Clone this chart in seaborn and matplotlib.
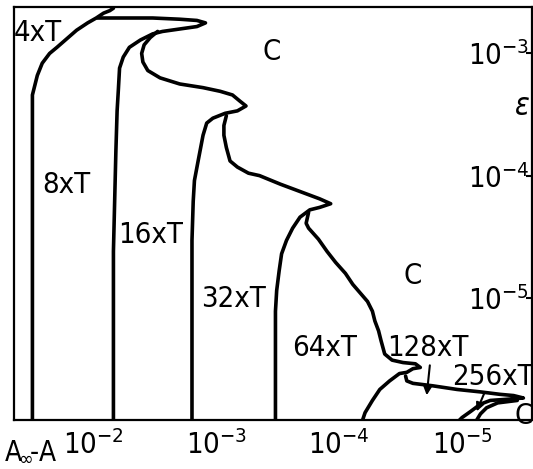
import numpy as np
import pandas as pd
import seaborn as sns
import matplotlib
matplotlib.use("Agg")
import matplotlib.pyplot as plt
from matplotlib.ticker import NullLocator

# Boundary curves
# values are log10(A_inf - A) and log10(epsilon)
a_x = [-1.50, -1.50, -1.50, -1.50, -1.52, -1.54, -1.58, -1.64, -1.70, -1.78, -1.86, -1.95, -2.02, -2.08, -2.13, -2.16]
a_y = [-6.00, -4.62, -3.47, -3.34, -3.26, -3.18, -3.08, -3.00, -2.95, -2.88, -2.81, -2.75, -2.71, -2.67, -2.65, -2.63]

b_x = [-2.03, -2.21, -2.48, -2.70, -2.84, -2.91, -2.84, -2.70, -2.56, -2.48, -2.38, -2.29, -2.24, -2.21,
       -2.20, -2.19, -2.18, -2.16, -2.16]
b_y = [-2.71, -2.71, -2.71, -2.72, -2.73, -2.75, -2.78, -2.80, -2.82, -2.84, -2.89, -2.95, -3.03, -3.12,
       -3.30, -3.47, -3.80, -4.62, -6.00]

c_x = [-2.52, -2.46, -2.41, -2.39, -2.40, -2.44, -2.54, -2.70, -2.89, -3.03, -3.13, -3.19, -3.24, -3.17,
       -3.07, -2.97, -2.92, -2.89, -2.85, -2.82, -2.81, -2.80, -2.80]
c_y = [-2.82, -2.87, -2.93, -3.00, -3.07, -3.14, -3.20, -3.25, -3.28, -3.31, -3.34, -3.39, -3.43, -3.47,
       -3.49, -3.53, -3.57, -3.67, -3.88, -4.04, -4.21, -4.53, -6.00]

d_x = [-3.08, -3.06, -3.06, -3.08, -3.11, -3.17, -3.26, -3.35, -3.52, -3.68, -3.84, -3.93, -3.84, -3.76,
       -3.68, -3.62, -3.57, -3.53, -3.51, -3.49, -3.48, -3.48, -3.48]
d_y = [-3.51, -3.59, -3.67, -3.77, -3.88, -3.93, -3.98, -4.00, -4.07, -4.13, -4.19, -4.23, -4.26, -4.28,
       -4.34, -4.43, -4.53, -4.64, -4.78, -4.94, -5.11, -5.52, -6.00]

e_x = [-3.75, -3.73, -3.75, -3.83, -3.90, -3.97, -4.05, -4.11, -4.17, -4.23, -4.27, -4.29, -4.32, -4.34,
       -4.37, -4.43, -4.52, -4.62, -4.66, -4.60, -4.55, -4.49, -4.41, -4.33, -4.27, -4.21, -4.19]
e_y = [-4.30, -4.39, -4.43, -4.52, -4.62, -4.71, -4.80, -4.89, -4.96, -5.03, -5.11, -5.19, -5.27, -5.35,
       -5.46, -5.51, -5.53, -5.54, -5.57, -5.58, -5.61, -5.62, -5.68, -5.75, -5.84, -5.94, -6.00]

g_x = [-4.54, -4.55, -4.60, -4.76, -4.96, -5.15, -5.31, -5.42, -5.50, -5.37, -5.23, -5.15, -5.07, -5.00, -4.98]
g_y = [-5.64, -5.68, -5.70, -5.72, -5.75, -5.77, -5.79, -5.80, -5.82, -5.83, -5.84, -5.87, -5.93, -5.98, -6.00]

h_x = [-5.45, -5.29, -5.20, -5.15, -5.12]
h_y = [-5.84, -5.86, -5.90, -5.95, -6.00]

curves = {"A": (a_x, a_y), "B": (b_x, b_y), "C": (c_x, c_y), "D": (d_x, d_y),
          "E": (e_x, e_y), "G": (g_x, g_y), "H": (h_x, h_y)}

region_text = ["4xT", "8xT", "16xT", "32xT", "64xT", "128xT", "256xT", "C", "C", "C"]
region_x = [-1.54, -1.78, -2.46, -3.14, -3.88, -4.72, -5.25, -3.45, -4.60, -5.50]
region_y = [-2.83, -4.08, -4.49, -5.01, -5.41, -5.41, -5.65, -2.99, -4.82, -5.97]

# arrows: (from x, from y, to x, to y)
arrows = [(-4.74, -5.53, -4.71, -5.82), (-5.19, -5.76, -5.11, -5.95)]

x_ticks = [1e-2, 1e-3, 1e-4, 1e-5]
y_ticks = [1e-5, 1e-4, 1e-3]

frames = []
for name, (lx, ly) in curves.items():
    frames.append(pd.DataFrame({"x": 10.0 ** np.array(lx), "y": 10.0 ** np.array(ly), "curve": name}))
df = pd.concat(frames, ignore_index=True)

sns.set_theme(style="white")
plt.rcParams["font.family"] = ["DejaVu Sans"]
plt.rcParams["font.stretch"] = "condensed"
plt.rcParams["mathtext.fontset"] = "custom"
plt.rcParams["mathtext.rm"] = "DejaVu Sans:stretch=condensed"
plt.rcParams["mathtext.it"] = "DejaVu Sans:italic:stretch=condensed"
plt.rcParams["text.color"] = "black"
plt.rcParams["axes.labelcolor"] = "black"

fig = plt.figure(figsize=(5.33, 4.69), dpi=100)
ax = fig.add_axes([14 / 533, 1 - 420 / 469, 518 / 533, 413 / 469])
ax.set_xscale("log")
ax.set_yscale("log")

sns.lineplot(data=df, x="x", y="y", units="curve", estimator=None, sort=False,
             color="black", linewidth=2.6, legend=False, ax=ax)

for t, x, y in zip(region_text, region_x, region_y):
    ax.text(10 ** x, 10 ** y, t, fontsize=21, ha="center", va="center", color="black")

for x0, y0, x1, y1 in arrows:
    ax.annotate("", xy=(10 ** x1, 10 ** y1), xytext=(10 ** x0, 10 ** y0),
                arrowprops=dict(arrowstyle="-|>", color="black", lw=1.5, mutation_scale=12))

ax.set_xlim(10 ** -1.35, 10 ** -5.57)
ax.set_ylim(1e-6, 10 ** -2.62)
ax.set_xticks(x_ticks)
ax.set_yticks(y_ticks)
ax.xaxis.set_minor_locator(NullLocator())
ax.yaxis.set_minor_locator(NullLocator())

ax.tick_params(axis="x", direction="inout", length=7, width=1.5, labelsize=21, pad=4, colors="black")
ax.tick_params(axis="y", left=False, right=True, labelleft=False, labelright=True,
               direction="in", length=4, width=1.5, labelsize=21, pad=-2, colors="black")
for lbl in ax.get_yticklabels():
    lbl.set_horizontalalignment("right")

ax.set_xlabel(r"A$_{\!\infty}\!$-A", fontsize=20, ha="left", va="center")
ax.xaxis.set_label_coords(-0.019, -0.075)
ax.yaxis.set_label_position("right")
ax.set_ylabel(r"$\varepsilon$", fontsize=22, rotation=0, ha="center", va="center")
ax.yaxis.set_label_coords(0.981, 0.76)

for s in ax.spines.values():
    s.set_color("black")
    s.set_linewidth(1.6)

fig.savefig("out.png", dpi=100)
